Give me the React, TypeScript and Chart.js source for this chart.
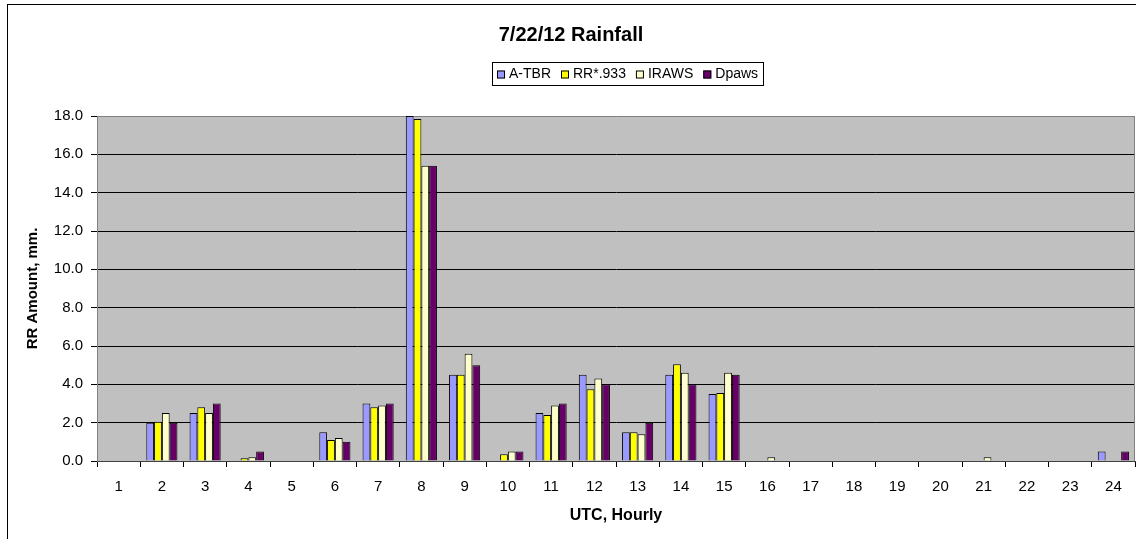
import { useEffect, useRef } from 'react';
import { Chart, registerables } from 'chart.js';

Chart.register(...registerables);

const FONT = "'Liberation Sans', Arial, sans-serif";

const hours = ['1', '2', '3', '4', '5', '6', '7', '8', '9', '10', '11', '12', '13', '14', '15', '16', '17', '18', '19', '20', '21', '22', '23', '24'];
const aTbr = [0, 2.0, 2.5, 0, 0, 1.5, 3.0, 18.0, 4.5, 0, 2.5, 4.5, 1.5, 4.5, 3.5, 0, 0, 0, 0, 0, 0, 0, 0, 0.5];
const rr933 = [0, 2.05, 2.8, 0.15, 0, 1.1, 2.8, 17.85, 4.5, 0.35, 2.4, 3.75, 1.5, 5.05, 3.55, 0, 0, 0, 0, 0, 0, 0, 0, 0];
const iraws = [0, 2.5, 2.5, 0.2, 0, 1.2, 2.9, 15.4, 5.6, 0.5, 2.9, 4.3, 1.4, 4.6, 4.6, 0.2, 0, 0, 0, 0, 0.2, 0, 0, 0];
const dpaws = [0, 2.0, 3.0, 0.5, 0, 1.0, 3.0, 15.4, 5.0, 0.5, 3.0, 4.0, 2.0, 4.0, 4.5, 0, 0, 0, 0, 0, 0, 0, 0, 0.5];

const seriesNames = ['A-TBR', 'RR*.933', 'IRAWS', 'Dpaws'];
const seriesColors = ['#9999FF', '#FFFF00', '#FFFFCC', '#660066'];

const chartTitle = '7/22/12 Rainfall';
const yTitle = 'RR Amount, mm.';
const xTitle = 'UTC, Hourly';
const yMin = 0;
const yMax = 18;
const yStep = 2;

export default function App() {
  const ref = useRef<HTMLCanvasElement>(null);

  useEffect(() => {
    if (!ref.current) return;

    const framePlugin = {
      id: 'framePlugin',
      beforeDraw(chart: any) {
        const { ctx, chartArea: a } = chart;
        ctx.save();
        ctx.fillStyle = '#FFFFFF';
        ctx.fillRect(0, 0, chart.width, chart.height);
        ctx.strokeStyle = '#000000';
        ctx.lineWidth = 1;
        ctx.strokeRect(7.5, 4.5, chart.width + 20, chart.height + 20);
        ctx.fillStyle = '#C0C0C0';
        ctx.fillRect(a.left, a.top, a.right - a.left, a.bottom - a.top);
        ctx.restore();
      },
      afterDatasetsDraw(chart: any) {
        const { ctx, chartArea: a } = chart;
        ctx.save();
        ctx.strokeStyle = '#808080';
        ctx.lineWidth = 1;
        ctx.beginPath();
        ctx.moveTo(a.right - 0.5, a.top);
        ctx.lineTo(a.right - 0.5, a.bottom);
        ctx.stroke();
        ctx.restore();
      },
    };

    const legendPlugin = {
      id: 'boxedLegend',
      afterDraw(chart: any) {
        const { ctx } = chart;
        const items = chart.data.datasets.map((ds: any) => ({ text: ds.label, color: ds.backgroundColor }));
        ctx.save();
        ctx.font = `14px ${FONT}`;
        const widths = items.map((it: any) => ctx.measureText(it.text).width);
        const pad = 5, box = 8, gapBT = 4, gapItems = 10;
        let total = pad * 2 + gapItems * (items.length - 1);
        widths.forEach((w: number) => { total += box + gapBT + w; });
        const cx = 628;
        const left = Math.round(cx - total / 2);
        const top = 62, h = 23;
        ctx.strokeStyle = '#000000';
        ctx.lineWidth = 1;
        ctx.strokeRect(left + 0.5, top + 0.5, Math.round(total), h);
        let x = left + pad;
        const midY = top + h / 2 + 1;
        items.forEach((it: any, i: number) => {
          ctx.fillStyle = it.color;
          ctx.fillRect(x, midY - 4, box, box);
          ctx.strokeStyle = '#000000';
          ctx.strokeRect(x + 0.5, midY - 3.5, box - 1, box - 1);
          ctx.fillStyle = '#000000';
          ctx.textBaseline = 'middle';
          ctx.textAlign = 'left';
          ctx.fillText(it.text, x + box + gapBT, midY - 0.5);
          x += box + gapBT + widths[i] + gapItems;
        });
        ctx.restore();
      },
    };

    const series = [aTbr, rr933, iraws, dpaws];

    const chart = new Chart(ref.current, {
      type: 'bar',
      data: {
        labels: hours,
        datasets: series.map((d, i) => ({
          label: seriesNames[i],
          data: d,
          backgroundColor: seriesColors[i],
          borderColor: '#000000',
          borderWidth: 1,
          categoryPercentage: 0.72,
          barPercentage: 1.0,
        })),
      },
      options: {
        responsive: false,
        animation: false,
        devicePixelRatio: 1,
        layout: { padding: { left: 7, right: 1, top: 0, bottom: 0 } },
        plugins: {
          legend: { display: false },
          tooltip: { enabled: false },
          title: {
            display: true,
            text: chartTitle,
            color: '#000000',
            font: { family: FONT, size: 20, weight: 'bold' },
            padding: { top: 23, bottom: 69 },
          },
        },
        scales: {
          x: {
            offset: true,
            grid: {
              display: true,
              drawOnChartArea: false,
              drawTicks: true,
              tickLength: 6,
              color: '#000000',
              offset: true,
            },
            border: { color: '#404040', width: 1 },
            ticks: {
              color: '#000000',
              font: { family: FONT, size: 15 },
              padding: 11,
              maxRotation: 0,
              autoSkip: false,
            },
            title: {
              display: true,
              text: xTitle,
              color: '#000000',
              font: { family: FONT, size: 16, weight: 'bold' },
              padding: { top: 0, bottom: 14 },
            },
            afterFit(scale: any) {
              scale.height = 78;
            },
          },
          y: {
            min: yMin,
            max: yMax,
            grid: {
              color: (c: any) => (c.tick && c.tick.value === yMax ? '#808080' : '#000000'),
              tickColor: '#000000',
              tickLength: 6,
              drawTicks: true,
            },
            border: { color: '#808080', width: 1 },
            ticks: {
              stepSize: yStep,
              color: '#000000',
              font: { family: FONT, size: 15 },
              padding: 8,
              callback: (v: any) => Number(v).toFixed(1),
            },
            title: {
              display: true,
              text: yTitle,
              color: '#000000',
              font: { family: FONT, size: 15, weight: 'bold' },
              padding: { top: 17, bottom: 0 },
            },
            afterFit(scale: any) {
              scale.width = 90;
            },
          },
        },
      },
      plugins: [framePlugin, legendPlugin],
    } as any);

    return () => chart.destroy();
  }, []);

  return (
    <canvas
      ref={ref}
      width={1136}
      height={539}
      style={{ position: 'fixed', left: 0, top: 0, display: 'block', width: '1136px', height: '539px' }}
    />
  );
}
